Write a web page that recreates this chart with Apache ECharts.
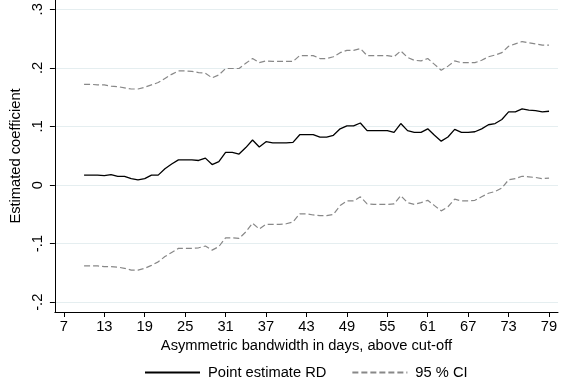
<!DOCTYPE html>
<html>
<head>
<meta charset="utf-8">
<script src="https://cdn.jsdelivr.net/npm/echarts@6/dist/echarts.min.js"></script>
<style>html,body{margin:0;padding:0;background:#fff;}#c{width:562px;height:385px;}</style>
</head>
<body>
<div id="c"></div>
<script>
var days = [];
for (var d = 10; d <= 79; d++) days.push(d);

var pointEstimate = [
  0.017,0.017,0.017,0.016,0.018,0.015,0.015,0.011,0.009,0.011,
  0.017,0.017,0.028,0.036,0.043,0.043,0.043,0.042,0.046,0.035,
  0.040,0.056,0.056,0.053,0.064,0.077,0.065,0.074,0.072,0.072,
  0.072,0.073,0.086,0.086,0.086,0.082,0.082,0.085,0.096,0.101,
  0.101,0.106,0.093,0.093,0.093,0.093,0.090,0.105,0.093,0.090,
  0.090,0.096,0.085,0.075,0.082,0.095,0.090,0.090,0.091,0.096,
  0.103,0.105,0.112,0.125,0.125,0.130,0.128,0.127,0.125,0.126
];

var upperCI = [
  0.172,0.172,0.171,0.171,0.169,0.168,0.166,0.164,0.164,0.167,
  0.171,0.175,0.182,0.189,0.195,0.195,0.194,0.192,0.191,0.183,
  0.188,0.199,0.199,0.199,0.208,0.216,0.209,0.212,0.211,0.211,
  0.211,0.211,0.221,0.221,0.221,0.216,0.216,0.219,0.226,0.230,
  0.230,0.233,0.221,0.221,0.221,0.221,0.219,0.229,0.218,0.213,
  0.212,0.216,0.206,0.196,0.203,0.212,0.209,0.209,0.209,0.213,
  0.219,0.222,0.226,0.237,0.241,0.245,0.243,0.241,0.239,0.239
];

var lowerCI = [
  -0.138,-0.138,-0.138,-0.139,-0.139,-0.140,-0.142,-0.145,-0.145,-0.142,
  -0.137,-0.131,-0.122,-0.115,-0.108,-0.108,-0.108,-0.107,-0.104,-0.111,
  -0.105,-0.090,-0.090,-0.091,-0.080,-0.065,-0.075,-0.067,-0.067,-0.067,
  -0.066,-0.063,-0.049,-0.049,-0.051,-0.052,-0.052,-0.050,-0.035,-0.027,
  -0.027,-0.020,-0.032,-0.033,-0.033,-0.033,-0.032,-0.018,-0.030,-0.033,
  -0.030,-0.026,-0.035,-0.044,-0.037,-0.024,-0.027,-0.027,-0.026,-0.020,
  -0.014,-0.011,-0.005,0.009,0.011,0.015,0.014,0.013,0.011,0.012
];

var xTicks = [7,13,19,25,31,37,43,49,55,61,67,73,79];
var yTicks = [-0.2,-0.1,0,0.1,0.2,0.3];

function pairs(vals) {
  return days.map(function (d, i) { return [d, vals[i]]; });
}
function fmtY(v) {
  var r = Math.round(v * 10) / 10;
  if (r === 0) return '0';
  return (r < 0 ? '-' : '') + Math.abs(r).toFixed(1).replace(/^0/, '');
}

var font = 'Liberation Sans';
var fs = 14.7;
var chart = echarts.init(document.getElementById('c'), null, {renderer: 'canvas'});
chart.setOption({
  backgroundColor: '#ffffff',
  animation: false,
  grid: {left: 52, right: 4, top: 0, bottom: 73, containLabel: false},
  xAxis: {
    type: 'value',
    min: 5.67, max: 80.33,
    name: 'Asymmetric bandwidth in days, above cut-off',
    nameLocation: 'middle', nameGap: 23,
    nameTextStyle: {fontFamily: font, fontSize: fs, color: '#000'},
    axisLine: {show: true, onZero: false, lineStyle: {color: '#000', width: 1}},
    axisTick: {show: true, length: 5, lineStyle: {color: '#000'}, customValues: xTicks},
    axisLabel: {fontFamily: font, fontSize: fs, color: '#000', margin: 7, customValues: xTicks,
      formatter: function (v) { return String(Math.round(v)); }},
    splitLine: {show: false}
  },
  yAxis: {
    type: 'value',
    min: -0.2166, max: 0.3159,
    name: 'Estimated coefficient',
    nameLocation: 'middle', nameGap: 31,
    nameTextStyle: {fontFamily: font, fontSize: fs, color: '#000'},
    axisLine: {show: true, lineStyle: {color: '#000', width: 1}},
    axisTick: {show: true, length: 5, lineStyle: {color: '#000'}, customValues: yTicks},
    axisLabel: {fontFamily: font, fontSize: fs, color: '#000', rotate: 90, margin: 9,
      customValues: yTicks, formatter: fmtY},
    splitLine: {show: true, lineStyle: {color: '#e5eef0', width: 1}}
  },
  legend: {
    top: 365, left: 144, padding: 0,
    itemWidth: 55, itemHeight: 14, itemGap: 25,
    itemStyle: {opacity: 0},
    textStyle: {fontFamily: font, fontSize: fs, color: '#000', padding: [0, 0, 0, 3]},
    data: ['Point estimate RD', '95 % CI']
  },
  series: [
    {name: 'Point estimate RD', type: 'line', data: pairs(pointEstimate), symbol: 'none',
      lineStyle: {color: '#000', width: 1.3}, itemStyle: {color: '#000'}},
    {name: '95 % CI', type: 'line', data: pairs(upperCI), symbol: 'none',
      lineStyle: {color: '#888', width: 1.2, type: [6, 3]}, itemStyle: {color: '#888'}},
    {name: '95 % CI', type: 'line', data: pairs(lowerCI), symbol: 'none',
      lineStyle: {color: '#888', width: 1.2, type: [6, 3]}, itemStyle: {color: '#888'}}
  ]
});
</script>
</body>
</html>
